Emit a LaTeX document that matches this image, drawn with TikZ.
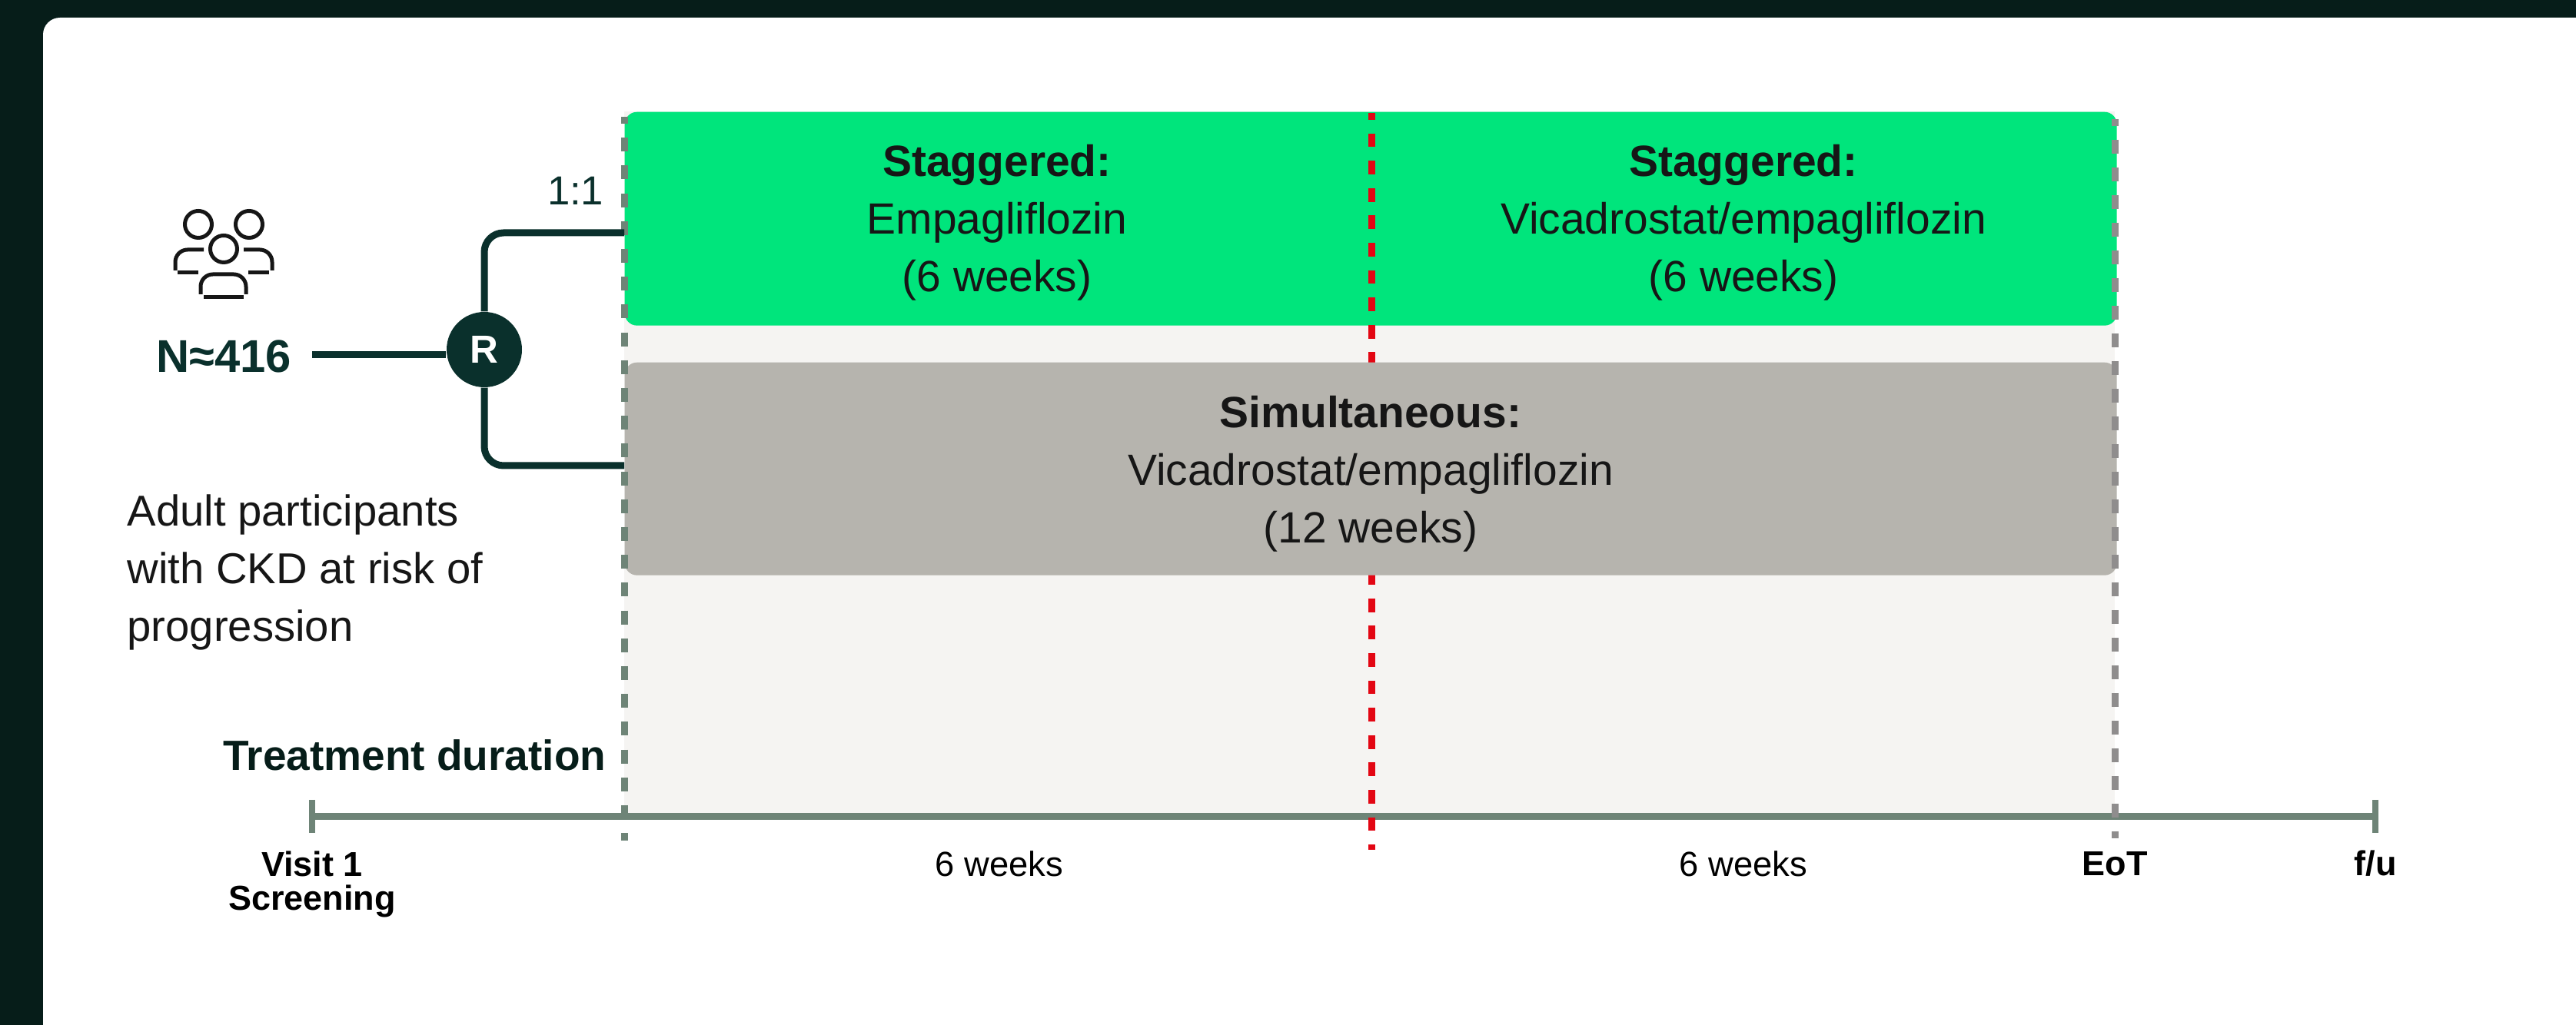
\documentclass[tikz,border=0pt]{standalone}
\usepackage{fontspec}
\setmainfont{Liberation Sans}
\usetikzlibrary{positioning}

\definecolor{pagedark}{HTML}{061D19}
\definecolor{armgreen}{HTML}{00E57C}
\definecolor{armgray}{HTML}{B6B4AE}
\definecolor{paleback}{HTML}{F5F4F2}
\definecolor{axisgreen}{HTML}{6E8477}
\definecolor{sidegray}{HTML}{8F8D8D}
\definecolor{markred}{HTML}{E30613}
\definecolor{deepgreen}{HTML}{0A302C}
\definecolor{inkblack}{HTML}{161616}

\tikzset{
  armbox/.style={rounded corners=0.16cm, inner sep=0pt, anchor=north west},
  armtext/.style={align=center, text=inkblack, font=\fontsize{16.2}{21.3}\selectfont},
  weektext/.style={text=black, font=\fontsize{12.9}{13}\selectfont},
  marktext/.style={text=black, align=center, font=\fontsize{12.8}{12.8}\selectfont\bfseries},
  iconline/.style={line width=0.05cm, draw=inkblack},
}

\begin{document}
\begin{tikzpicture}

   \useasboundingbox (0,0) rectangle (33.51,13.34);

   % 背景
   \fill [pagedark] (0,0) rectangle (33.51,13.34);
   \fill [white, rounded corners=0.22cm] (0.56,-0.2) rectangle (34.5,13.11);
   \fill [paleback] (8.12,2.71) rectangle (27.51,11.89);

   % 上段
   \node [armbox, fill=armgreen, minimum width=19.41cm, minimum height=2.78cm] (stagbox) at (8.12,11.89) {};
   \node [armtext] (stagone) at (12.97,10.44) {\textbf{Staggered:}\\Empagliflozin\\(6 weeks)};
   \node [armtext] (stagtwo) at (22.68,10.44) {\textbf{Staggered:}\\Vicadrostat/empagliflozin\\(6 weeks)};

   % 時間軸
   \coordinate (axisstart) at (4.06,2.71);
   \coordinate (axisend) at (30.9,2.71);
   \draw [line width=0.09cm, axisgreen] (axisstart)--(axisend);
   \draw [line width=0.08cm, axisgreen] (4.06,2.93)--(4.06,2.5);
   \draw [line width=0.08cm, axisgreen] (30.9,2.93)--(30.9,2.5);

   % 赤の点線
   \coordinate (redtop) at (17.84,11.87);
   \coordinate (redend) at (17.84,2.28);
   \draw [line width=0.09cm, markred, dash pattern=on 0.178cm off 0.178cm, dash phase=0.089cm] (redtop)--(redend);

   % 下段
   \node [armbox, fill=armgray, minimum width=19.41cm, minimum height=2.77cm] (simbox) at (8.12,8.63) {};
   \node [armtext] (simtext) at (17.83,7.17) {\textbf{Simultaneous:}\\Vicadrostat/empagliflozin\\(12 weeks)};

   % 縦の点線
   \coordinate (lefttop) at (8.12,11.82);
   \coordinate (leftend) at (8.12,2.4);
   \coordinate (righttop) at (27.51,11.79);
   \coordinate (rightend) at (27.51,2.43);
   \draw [line width=0.09cm, axisgreen, dash pattern=on 0.181cm off 0.181cm, dash phase=0.09cm] (lefttop)--(leftend);
   \draw [line width=0.09cm, sidegray, dash pattern=on 0.18cm off 0.18cm, dash phase=0.09cm] (righttop)--(rightend);

   % 割付
   \node [circle, fill=deepgreen, text=white, minimum size=0.98cm, inner sep=0pt, font=\fontsize{14.5}{14.5}\selectfont\bfseries] (rnd) at (6.3,8.79) {R};
   \node [text=deepgreen, font=\fontsize{17}{17}\selectfont\bfseries] (total) at (2.91,8.7) {N≈416};
   \coordinate (totalend) at (4.06,8.72);
   \coordinate (armtop) at (8.12,10.31);
   \coordinate (armlow) at (8.12,7.28);
   \draw [line width=0.09cm, deepgreen] (totalend)--(rnd.west |- totalend);
   \draw [line width=0.09cm, deepgreen, rounded corners=0.25cm] (rnd.north)|-(armtop);
   \draw [line width=0.09cm, deepgreen, rounded corners=0.25cm] (rnd.south)|-(armlow);
   \node [anchor=east, inner sep=0pt, text=deepgreen, font=\fontsize{15}{15}\selectfont] (ratio) at (7.86,10.86) {1:1};

   % 人のアイコン
   \draw [iconline] (2.58,10.42) circle (0.175);
   \draw [iconline] (3.24,10.42) circle (0.175);
   \draw [iconline] (2.91,10.1) circle (0.175);
   \draw [iconline, rounded corners=0.16cm] (2.65,10.09)--(2.28,10.09)--(2.28,9.82);
   \draw [iconline] (2.31,9.79)--(2.58,9.79);
   \draw [iconline, rounded corners=0.16cm] (3.17,10.09)--(3.54,10.09)--(3.54,9.82);
   \draw [iconline] (3.23,9.79)--(3.5,9.79);
   \draw [iconline, rounded corners=0.16cm] (2.61,9.51)--(2.61,9.77)--(3.2,9.77)--(3.2,9.51);
   \draw [iconline] (2.65,9.47)--(3.17,9.47);

   % 説明
   \node [anchor=west, inner sep=0pt, align=left, text=inkblack, font=\fontsize{16}{21.3}\selectfont] (people) at (1.65,5.89) {Adult participants\\with CKD at risk of\\progression};
   \node [anchor=east, inner sep=0pt, text=pagedark, font=\fontsize{15.65}{16}\selectfont\bfseries] (duration) at (7.89,3.51) {Treatment duration};

   % 目盛りのラベル
   \node [marktext, anchor=north] (visit) at (4.06,2.39) {Visit 1\\Screening};
   \node [weektext] (weekone) at (13,2.1) {6 weeks};
   \node [weektext] (weektwo) at (22.68,2.1) {6 weeks};
   \node [marktext] (eot) at (27.51,2.1) {EoT};
   \node [marktext] (followup) at (30.9,2.1) {f/u};

\end{tikzpicture}
\end{document}
